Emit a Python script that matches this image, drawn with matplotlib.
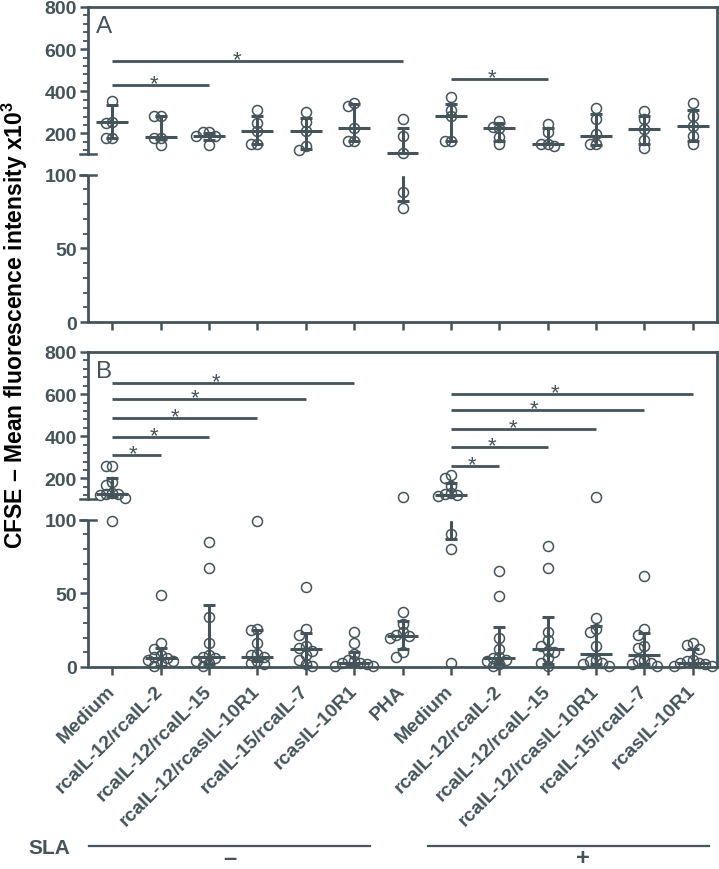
import numpy as np
import matplotlib.pyplot as plt
from matplotlib.transforms import blended_transform_factory

plt.rcParams['font.family'] = ['Liberation Sans', 'DejaVu Sans']
plt.rcParams['mathtext.fontset'] = 'custom'
plt.rcParams['mathtext.bf'] = 'Liberation Sans:bold'

C = '#44545a'

# ---- data ----
groups = ['Medium', 'rcaIL-12/rcaIL-2', 'rcaIL-12/rcaIL-15', 'rcaIL-12/rcasIL-10R1',
          'rcaIL-15/rcaIL-7', 'rcasIL-10R1', 'PHA', 'Medium', 'rcaIL-12/rcaIL-2',
          'rcaIL-12/rcaIL-15', 'rcaIL-12/rcasIL-10R1', 'rcaIL-15/rcaIL-7', 'rcasIL-10R1']

vals_a = [
    [352, 255, 250, 176, 178],
    [281, 281, 176, 143, 176],
    [205, 205, 190, 186, 143],
    [310, 248, 210, 152, 152],
    [300, 252, 210, 138, 119],
    [343, 329, 224, 162, 162],
    [267, 186, 105, 88, 77],
    [371, 310, 281, 162, 162],
    [257, 229, 224, 181, 152],
    [243, 205, 148, 148, 138],
    [319, 267, 195, 152, 152],
    [305, 267, 219, 167, 133],
    [343, 281, 233, 186, 152],
]
med_a = [252, 181, 188, 210, 210, 224, 105, 281, 224, 152, 190, 219, 233]
q1_a = [176, 172, 168, 152, 124, 162, 82, 162, 162, 148, 143, 152, 162]
q3_a = [333, 281, 200, 281, 271, 338, 224, 338, 248, 224, 290, 281, 310]

vals_b = [
    [261, 261, 185, 171, 129, 126, 124, 122, 105, 99],
    [49, 16, 12, 8, 7, 6, 5, 4, 3, 1],
    [85, 67, 34, 16, 8, 7, 6, 4, 3, 1],
    [99, 26, 25, 16, 9, 8, 7, 4, 3, 2],
    [54, 26, 22, 14, 13, 11, 8, 5, 2, 1],
    [24, 16, 9, 5, 4, 3, 3, 2, 1, 1],
    [110, 37, 29, 24, 22, 21, 20, 10, 7],
    [218, 204, 166, 130, 125, 120, 118, 90, 80, 3],
    [65, 48, 20, 12, 7, 6, 5, 4, 2, 1],
    [82, 67, 24, 18, 14, 11, 10, 6, 3, 1],
    [110, 33, 26, 24, 14, 5, 4, 3, 2, 1],
    [62, 26, 22, 14, 13, 5, 4, 3, 2, 1],
    [16, 15, 12, 5, 4, 3, 3, 2, 1, 1],
]
med_b = [124, 6, 7, 7, 12, 3, 21, 120, 6, 12, 9, 8, 3]
q1_b = [112, 1, 2, 4, 1, 1, 12, 87, 2, 2, 2, 2, 1]
q3_b = [204, 13, 42, 25, 23, 10, 31, 176, 27, 34, 28, 23, 12]

# significance bars: (from group, to group, height)
sig_a = [(0, 2, 429), (0, 6, 543), (7, 9, 457)]
sig_b = [(0, 1, 313), (0, 2, 398), (0, 3, 488), (0, 4, 578), (0, 5, 653),
         (7, 8, 261), (7, 9, 351), (7, 10, 436), (7, 11, 526), (7, 12, 601)]

sla_groups = [('\u2013', 0, 5), ('+', 7, 12)]

# ---- broken y scale: 0-100 linear, then 100-800 compressed ----
GAP = 100 * 20 / 147


def fwd(v):
    v = np.asarray(v, dtype=float)
    return np.where(v <= 100, v, 100 + GAP + (v - 100) / 7)


def inv(p):
    p = np.asarray(p, dtype=float)
    return np.where(p <= 100, p, np.where(p < 100 + GAP, 100, 100 + (p - 100 - GAP) * 7))


def swarm(ax, xc, vals, thresh=6, step=0.13):
    pts = ax.transData.transform(np.column_stack([np.full(len(vals), xc), vals]))
    unit = ax.transData.transform([[1, 0]])[0, 0] - ax.transData.transform([[0, 0]])[0, 0]
    cands = [0] + [s * i for i in range(1, 4) for s in (-1, 1)]
    placed, offs = [], []
    for y in pts[:, 1]:
        best, bestd = 0, -1
        for c in cands:
            xo = c * step * unit
            d = min([np.hypot(xo - px, y - py) for px, py in placed] or [1e9])
            if d >= thresh:
                best = c
                break
            if d > bestd:
                best, bestd = c, d
        placed.append((best * step * unit, y))
        offs.append(best * step)
    return xc + np.array(offs)


def draw_panel(ax, vals, med, q1, q3, sig, letter):
    ax.set_xlim(-0.5, 12.5)
    ax.set_yscale('function', functions=(fwd, inv))
    ax.set_ylim(0, 800)
    yt = [0, 50, 100, 200, 400, 600, 800]
    ax.set_yticks(yt, labels=[str(t) for t in yt])
    minor = [10, 20, 30, 40, 60, 70, 80, 90, 120, 160, 240, 280, 320, 360, 440,
             480, 520, 560, 640, 680, 720, 760]
    ax.set_yticks(minor, minor=True)
    ax.tick_params(axis='y', which='major', length=6, width=1.8, color=C,
                   labelcolor=C, labelsize=14, pad=2)
    ax.tick_params(axis='y', which='minor', length=3.5, width=1.3, color=C)
    for lab in ax.get_yticklabels():
        lab.set_fontweight('bold')
    ax.set_xticks(range(len(groups)))
    ax.tick_params(axis='x', length=6, width=1.8, color=C)
    for s in ax.spines.values():
        s.set_color(C)
        s.set_linewidth(2)
    ax.spines['left'].set_bounds(100.001, 800)
    trans = blended_transform_factory(ax.transAxes, ax.transData)
    ax.plot([0, 0], [0, 100], transform=trans, color=C, lw=2, clip_on=False,
            solid_capstyle='butt', zorder=3)
    for yb in (100, 100.001):
        ax.plot([-0.012, 0.012], [yb, yb], transform=trans, color=C, lw=1.8,
                clip_on=False, zorder=3)
    # mask the gap
    ax.axhspan(100, 100.0005, color='white', zorder=2.2)

    x = np.arange(len(groups))
    med = np.array(med)
    ax.errorbar(x, med, yerr=[med - np.array(q1), np.array(q3) - med], fmt='none',
                ecolor=C, elinewidth=2.2, capsize=4.5, capthick=2.2, zorder=2)
    ax.hlines(med, x - 0.33, x + 0.33, color=C, lw=2.2, zorder=2.5)
    for i, v in enumerate(vals):
        xs = swarm(ax, i, v)
        ax.plot(xs, v, 'o', mfc='none', mec=C, ms=7.2, mew=1.1, zorder=3, clip_on=False)

    for a, b, h in sig:
        ax.plot([a, b], [h, h], color=C, lw=2, solid_capstyle='butt', zorder=2)
        ax.annotate('*', xy=(a + 0.43 * (b - a), h), xytext=(0, -3),
                    textcoords='offset points', ha='center', va='baseline',
                    fontsize=16, color=C)
    ax.text(0.012, 0.975, letter, transform=ax.transAxes, ha='left', va='top',
            fontsize=17.5, color=C)


fig = plt.figure(figsize=(7.19, 8.70), dpi=100)
axA = fig.add_axes([88 / 719, 1 - 323 / 870, 629 / 719, 315 / 870])
axB = fig.add_axes([88 / 719, 1 - 668 / 870, 629 / 719, 315 / 870])

draw_panel(axA, vals_a, med_a, q1_a, q3_a, sig_a, 'A')
draw_panel(axB, vals_b, med_b, q1_b, q3_b, sig_b, 'B')

axA.set_xticklabels([])
axB.set_xticks(range(len(groups)), labels=groups, rotation=45, ha='right',
               va='center', rotation_mode='anchor', fontweight='bold',
               fontsize=14, color=C)
axB.tick_params(axis='x', pad=9)

fig.text(0.021, 1 - 325 / 870, 'CFSE \u2013 Mean fluorescence intensity x10$^\\mathbf{3}$',
         rotation=90, ha='center', va='center', fontsize=16.5, fontweight='bold',
         color='black')

# SLA row
tr = blended_transform_factory(axB.transData, fig.transFigure)
fig.text(70 / 719, 1 - 849 / 870, 'SLA', ha='right', va='center', fontsize=15,
         fontweight='bold', color=C)
for sign, a, b in sla_groups:
    x0, x1 = a - 0.47, b + 0.33
    fig.add_artist(plt.Line2D([x0, x1], [1 - 847 / 870] * 2, transform=tr, color=C, lw=1.6))
    fig.text((x0 + x1) / 2 + (0.3 if sign == '+' else 0), 1 - 859 / 870, sign,
             transform=tr, ha='center', va='center', fontsize=17, fontweight='heavy',
             color=C)

fig.savefig('out.png', dpi=100)
